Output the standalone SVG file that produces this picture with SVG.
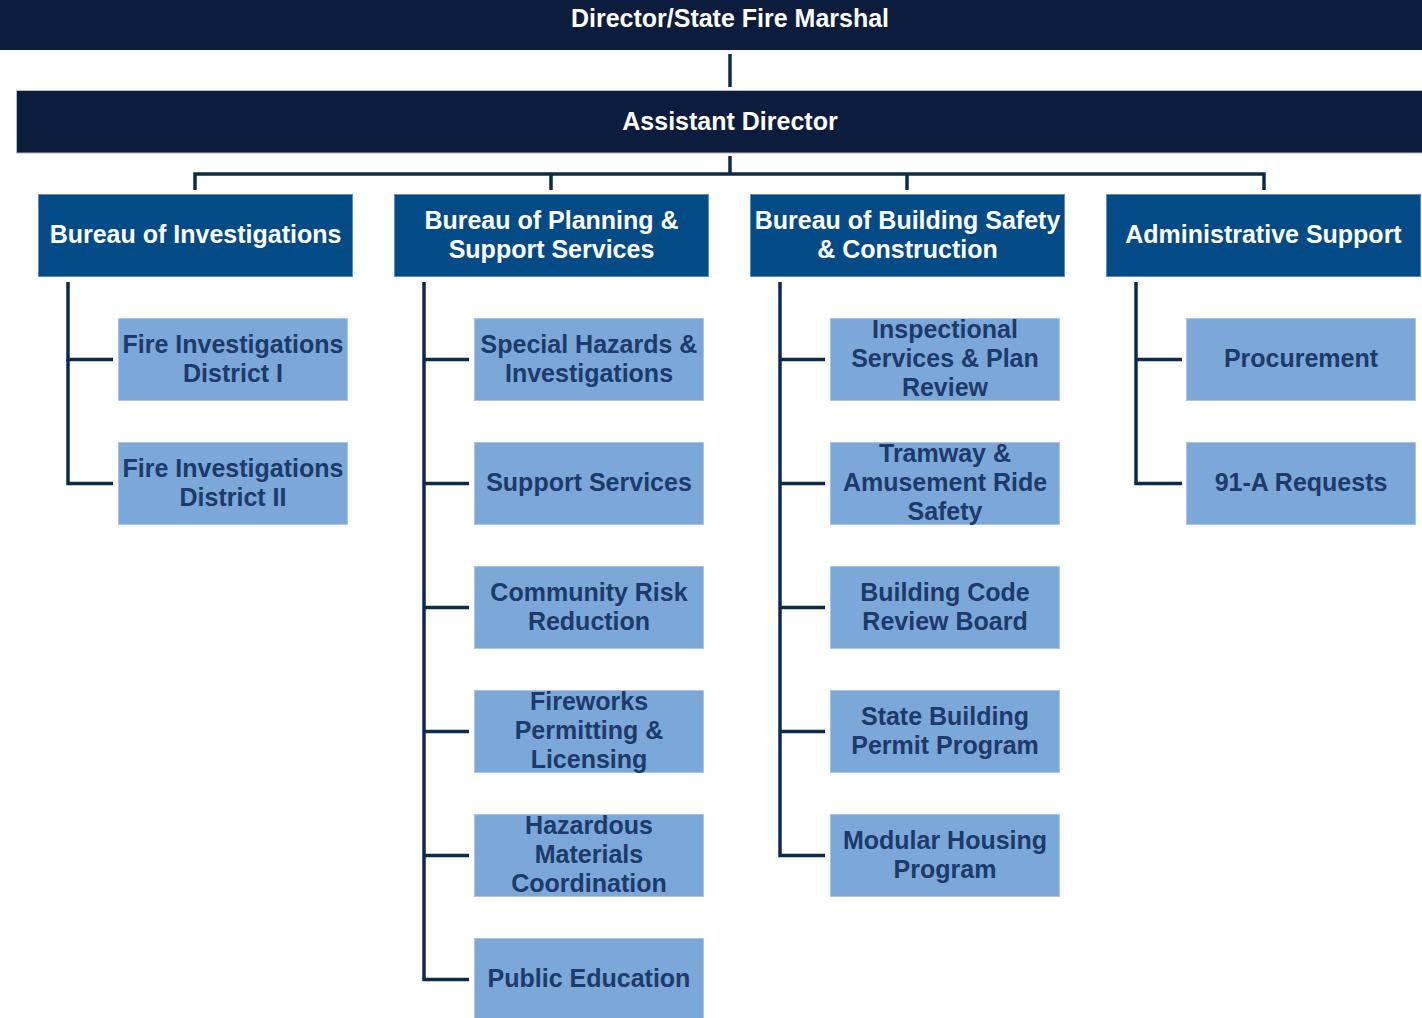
<svg xmlns="http://www.w3.org/2000/svg" width="1422" height="1018" viewBox="0 0 1422 1018">
<style>
  text { font-family: "Liberation Sans", Arial, sans-serif; font-weight: bold; font-size: 25px; text-anchor: middle; }
  .top { fill: #0c1c3c; }
  .topb { fill: #0c1c3c; stroke: #b4bac6; stroke-width: 1; }
  .bur { fill: #034b87; stroke: #5f8cc0; stroke-width: 1; }
  .sub { fill: #7ba7d9; stroke: #a9c5e8; stroke-width: 1; }
  .wt { fill: #ffffff; }
  .dt { fill: #1c3a6a; }
  .ln { fill: none; stroke: #0c2b4b; stroke-width: 3.5; stroke-linejoin: miter; stroke-linecap: butt; }
</style>
<rect width="1422" height="1018" fill="#ffffff"/>

<g id="connectors">
  <path class="ln" d="M730 54 V87"/>
  <path class="ln" d="M730 156 V174"/>
  <path class="ln" d="M195 190 V174 H1264 V190"/>
  <path class="ln" d="M551 174 V190"/>
  <path class="ln" d="M907 174 V190"/>
  <path class="ln" d="M68 282 V359.5 H113"/>
  <path class="ln" d="M68 359.5 V483.5 H113"/>
  <path class="ln" d="M424 282 V979.5 H469"/>
  <path class="ln" d="M424 359.5 H469 M424 483.5 H469 M424 607.5 H469 M424 731.5 H469 M424 855.5 H469"/>
  <path class="ln" d="M780 282 V855.5 H825"/>
  <path class="ln" d="M780 359.5 H825 M780 483.5 H825 M780 607.5 H825 M780 731.5 H825"/>
  <path class="ln" d="M1136 282 V483.5 H1182"/>
  <path class="ln" d="M1136 359.5 H1182"/>
</g>

<g id="director">
  <rect class="top" x="0" y="0" width="1422" height="50"/>
  <text class="wt" x="730" y="27">Director/State Fire Marshal</text>
</g>
<g id="assistant-director">
  <rect class="topb" x="16.5" y="90.5" width="1410" height="62.5"/>
  <text class="wt" x="730" y="130">Assistant Director</text>
</g>

<g id="bureau-investigations">
  <rect class="bur" x="38.5" y="194.5" width="314" height="82"/>
  <text class="wt" x="195.5" y="243">Bureau of Investigations</text>
</g>
<g id="bureau-planning">
  <rect class="bur" x="394.5" y="194.5" width="314" height="82"/>
  <text class="wt" x="551.5" y="229">Bureau of Planning &amp;</text>
  <text class="wt" x="551.5" y="258">Support Services</text>
</g>
<g id="bureau-building">
  <rect class="bur" x="750.5" y="194.5" width="314" height="82"/>
  <text class="wt" x="907.5" y="229">Bureau of Building Safety</text>
  <text class="wt" x="907.5" y="258">&amp; Construction</text>
</g>
<g id="admin-support">
  <rect class="bur" x="1106.5" y="194.5" width="314" height="82"/>
  <text class="wt" x="1263.5" y="243">Administrative Support</text>
</g>

<g id="fire-inv-1">
  <rect class="sub" x="118.5" y="318.5" width="229" height="82"/>
  <text class="dt" x="233" y="353">Fire Investigations</text>
  <text class="dt" x="233" y="382">District I</text>
</g>
<g id="fire-inv-2">
  <rect class="sub" x="118.5" y="442.5" width="229" height="82"/>
  <text class="dt" x="233" y="477">Fire Investigations</text>
  <text class="dt" x="233" y="506">District II</text>
</g>

<g id="special-hazards">
  <rect class="sub" x="474.5" y="318.5" width="229" height="82"/>
  <text class="dt" x="589" y="353">Special Hazards &amp;</text>
  <text class="dt" x="589" y="382">Investigations</text>
</g>
<g id="support-services">
  <rect class="sub" x="474.5" y="442.5" width="229" height="82"/>
  <text class="dt" x="589" y="491">Support Services</text>
</g>
<g id="community-risk">
  <rect class="sub" x="474.5" y="566.5" width="229" height="82"/>
  <text class="dt" x="589" y="601">Community Risk</text>
  <text class="dt" x="589" y="630">Reduction</text>
</g>
<g id="fireworks">
  <rect class="sub" x="474.5" y="690.5" width="229" height="82"/>
  <text class="dt" x="589" y="710">Fireworks</text>
  <text class="dt" x="589" y="739">Permitting &amp;</text>
  <text class="dt" x="589" y="768">Licensing</text>
</g>
<g id="hazmat">
  <rect class="sub" x="474.5" y="814.5" width="229" height="82"/>
  <text class="dt" x="589" y="834">Hazardous</text>
  <text class="dt" x="589" y="863">Materials</text>
  <text class="dt" x="589" y="892">Coordination</text>
</g>
<g id="public-education">
  <rect class="sub" x="474.5" y="938.5" width="229" height="82"/>
  <text class="dt" x="589" y="987">Public Education</text>
</g>

<g id="inspectional">
  <rect class="sub" x="830.5" y="318.5" width="229" height="82"/>
  <text class="dt" x="945" y="338">Inspectional</text>
  <text class="dt" x="945" y="367">Services &amp; Plan</text>
  <text class="dt" x="945" y="396">Review</text>
</g>
<g id="tramway">
  <rect class="sub" x="830.5" y="442.5" width="229" height="82"/>
  <text class="dt" x="945" y="462">Tramway &amp;</text>
  <text class="dt" x="945" y="491">Amusement Ride</text>
  <text class="dt" x="945" y="520">Safety</text>
</g>
<g id="building-code">
  <rect class="sub" x="830.5" y="566.5" width="229" height="82"/>
  <text class="dt" x="945" y="601">Building Code</text>
  <text class="dt" x="945" y="630">Review Board</text>
</g>
<g id="state-building-permit">
  <rect class="sub" x="830.5" y="690.5" width="229" height="82"/>
  <text class="dt" x="945" y="725">State Building</text>
  <text class="dt" x="945" y="754">Permit Program</text>
</g>
<g id="modular-housing">
  <rect class="sub" x="830.5" y="814.5" width="229" height="82"/>
  <text class="dt" x="945" y="849">Modular Housing</text>
  <text class="dt" x="945" y="878">Program</text>
</g>

<g id="procurement">
  <rect class="sub" x="1186.5" y="318.5" width="229" height="82"/>
  <text class="dt" x="1301" y="367">Procurement</text>
</g>
<g id="requests-91a">
  <rect class="sub" x="1186.5" y="442.5" width="229" height="82"/>
  <text class="dt" x="1301" y="491">91-A Requests</text>
</g>
</svg>
